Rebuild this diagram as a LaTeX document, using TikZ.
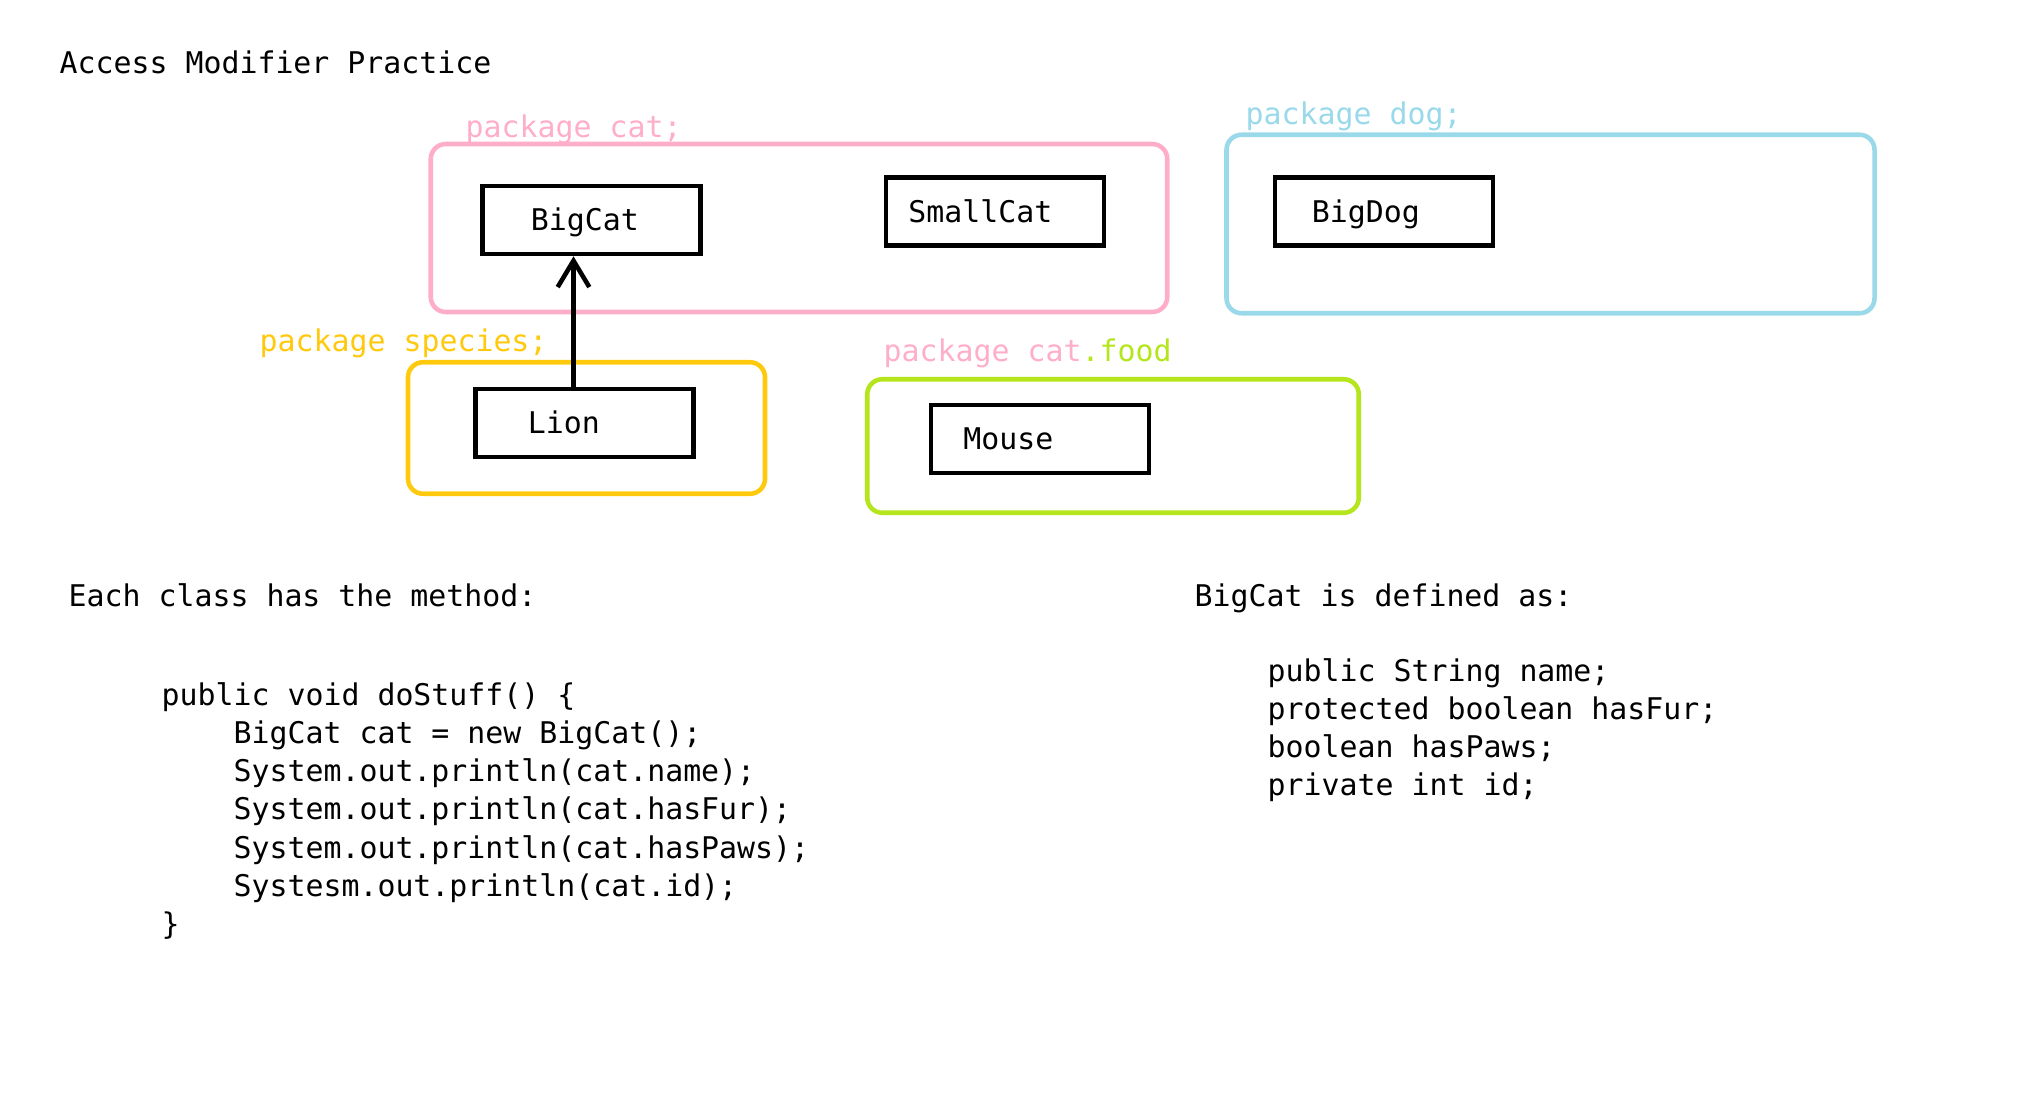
\documentclass[tikz,border=0pt]{standalone}
\usepackage{fontspec}
\setmonofont{DejaVu Sans Mono}
\usetikzlibrary{arrows.meta}
\definecolor{pinkc}{HTML}{FFAEC9}
\definecolor{bluec}{HTML}{99D9EA}
\definecolor{goldc}{HTML}{FFC90E}
\definecolor{limec}{HTML}{B5E61D}

\begin{document}
\begin{tikzpicture}[
    every node/.style={font=\ttfamily\fontsize{8.5}{10.9}\selectfont, inner sep=0pt},
    txt/.style={anchor=base west},
    pkg/.style={draw=#1, line width=1.3pt, rounded corners=0.15cm},
    cls/.style={draw, line width=1.3pt, minimum width=2.18cm, minimum height=0.68cm}]
    \useasboundingbox (0,0) rectangle (20.39,11.08);

    \node[txt] (title) at (0.59,10.34) {Access Modifier Practice};

    % packages
    \node[pkg=pinkc, minimum width=7.365cm, minimum height=1.68cm] (cat) at (7.99,8.80) {};
    \node[pkg=bluec, minimum width=6.48cm, minimum height=1.785cm] (dog) at (15.505,8.84) {};
    \node[pkg=goldc, minimum width=3.57cm, minimum height=1.315cm] (species) at (5.865,6.80) {};
    \node[pkg=limec, minimum width=4.915cm, minimum height=1.335cm] (food) at (11.13,6.62) {};

    \node[txt, text=pinkc] (catlbl) at (4.65,9.705) {package cat;};
    \node[txt, text=bluec] (doglbl) at (12.45,9.83) {package dog;};
    \node[txt, text=goldc] (specieslbl) at (2.59,7.56) {package species;};
    \node[txt] (foodlbl) at (8.83,7.46) {\textcolor{pinkc}{package cat}\textcolor{limec}{.food}};

    % classes
    \foreach \name/\x/\y/\pad in {BigCat/5.915/8.88/0.50, SmallCat/9.95/8.965/0.24,
        BigDog/13.84/8.965/0.385, Lion/5.845/6.85/0.54, Mouse/10.40/6.69/0.34}{
        \node[cls] (\name) at (\x,\y) {};
        \node[txt] (\name-txt) at ([xshift=\pad cm, yshift=-0.11cm]\name.west) {\name};
    }

    \draw[line width=1.3pt, -{Straight Barb[length=7.5pt, width=9pt]}]
        ([xshift=-0.11cm]Lion.north) -- ([xshift=-0.11cm]Lion.north |- BigCat.south);

    % method and fields
    \node[txt] (each) at (0.68,5.02) {Each class has the method:};
    \foreach \src [count=\i from 0] in {public void doStuff() \{, ~~~~BigCat cat = new BigCat();,
        ~~~~System.out.println(cat.name);, ~~~~System.out.println(cat.hasFur);,
        ~~~~System.out.println(cat.hasPaws);, ~~~~Systesm.out.println(cat.id);, \}}
        \node[txt] (code\i) at (1.61,4.03-0.383*\i) {\src};

    \node[txt] (defined) at (11.94,5.02) {BigCat is defined as:};
    \foreach \src [count=\i from 0] in {public String name;, protected boolean hasFur;,
        boolean hasPaws;, private int id;}
        \node[txt] (field\i) at (12.67,4.27-0.38*\i) {\src};

\end{tikzpicture}
\end{document}
